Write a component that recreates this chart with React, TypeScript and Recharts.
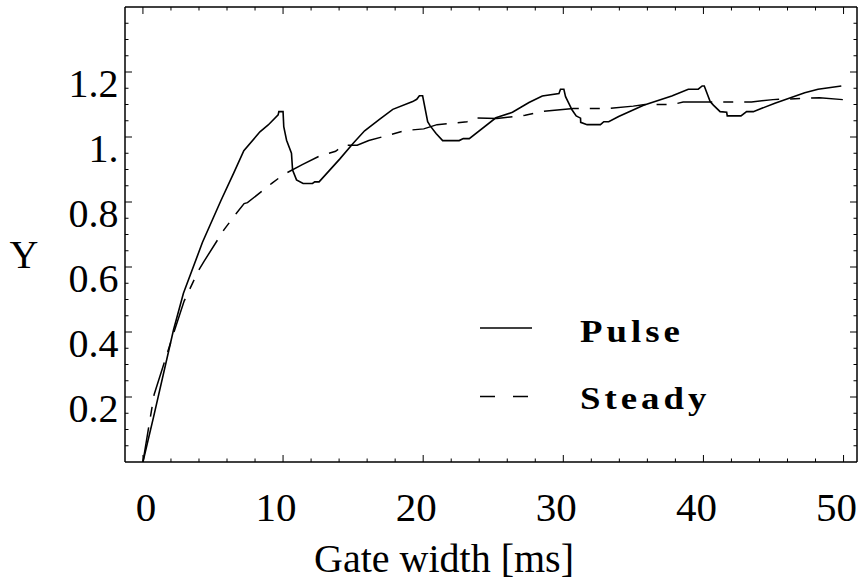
import React from "react";
import { LineChart, Line, XAxis, YAxis } from "recharts";

// values
const pulseX = [0, 0.76, 2.18, 2.89, 4.25, 5.56, 6.5, 7.2, 8.35, 8.94, 9.65, 9.7, 10.0, 10.05, 10.25, 10.6, 10.68, 10.96, 11.43, 12.1, 12.26, 12.57, 14.04, 14.99, 15.82, 16.88, 17.83, 19.25, 19.54, 19.73, 19.96, 20.32, 20.49, 20.92, 21.39, 22.57, 22.86, 23.29, 25.19, 26.37, 27.55, 28.5, 29.69, 29.8, 30.04, 30.16, 30.63, 30.92, 31.23, 31.24, 31.7, 32.65, 32.89, 33.24, 33.95, 35.73, 37.74, 38.92, 39.63, 39.91, 40.06, 40.48, 40.71, 41.19, 41.66, 41.7, 42.68, 43.08, 43.56, 45.1, 47.23, 48.18, 49.84];
const pulseY = [0, 0.139, 0.406, 0.519, 0.676, 0.804, 0.891, 0.958, 1.016, 1.037, 1.068, 1.078, 1.078, 1.032, 0.99, 0.95, 0.898, 0.868, 0.857, 0.857, 0.862, 0.862, 0.932, 0.98, 1.019, 1.054, 1.085, 1.109, 1.116, 1.127, 1.127, 1.047, 1.035, 1.011, 0.989, 0.989, 0.995, 0.995, 1.059, 1.076, 1.106, 1.126, 1.134, 1.147, 1.147, 1.124, 1.083, 1.065, 1.058, 1.045, 1.038, 1.038, 1.047, 1.047, 1.063, 1.098, 1.126, 1.147, 1.147, 1.157, 1.157, 1.109, 1.098, 1.078, 1.076, 1.065, 1.065, 1.078, 1.078, 1.104, 1.136, 1.147, 1.157];

const steadyX = [0, 0.8, 2.35, 2.94, 3.94, 4.37, 5.79, 6.7, 7.22, 7.46, 9.24, 10.06, 11.37, 12.68, 13.75, 14.34, 15.29, 16.12, 18.73, 20.04, 20.99, 23.13, 23.6, 25.26, 27.28, 28.58, 30.72, 33.33, 34.99, 35.83, 37.84, 38.55, 43.43, 44.96, 48.29, 49.95];
const steadyY = [0, 0.208, 0.418, 0.495, 0.587, 0.618, 0.715, 0.767, 0.795, 0.798, 0.859, 0.885, 0.915, 0.943, 0.956, 0.975, 0.975, 0.989, 1.02, 1.025, 1.038, 1.047, 1.059, 1.057, 1.067, 1.079, 1.088, 1.088, 1.095, 1.1, 1.1, 1.108, 1.108, 1.115, 1.121, 1.115];

const xTicks = [0, 2, 4, 6, 8, 10, 12, 14, 16, 18, 20, 22, 24, 26, 28, 30, 32, 34, 36, 38, 40, 42, 44, 46, 48, 50];
const xMajor = [0, 10, 20, 30, 40, 50];
const yTicks = [0.05, 0.1, 0.15, 0.2, 0.25, 0.3, 0.35, 0.4, 0.45, 0.5, 0.55, 0.6, 0.65, 0.7, 0.75, 0.8, 0.85, 0.9, 0.95, 1, 1.05, 1.1, 1.15, 1.2, 1.25, 1.3, 1.35];
const yMajor = [0.2, 0.4, 0.6, 0.8, 1, 1.2];
const yMajorLabels = ["0.2", "0.4", "0.6", "0.8", "1.", "1.2"];

const seriesNames = ["Pulse", "Steady"];
const seriesDash = ["", "15 18"];

const pulse = pulseX.map((x, i) => ({ x, y: pulseY[i] }));
const steady = steadyX.map((x, i) => ({ x, y: steadyY[i] }));

const FONT = "'Liberation Serif', 'Times New Roman', serif";
const majorIndex = (list: number[], v: number) => list.findIndex((m) => Math.abs(m - v) < 1e-6);

function BottomTick({ x, y, payload }: any) {
  const major = majorIndex(xMajor, payload.value) >= 0;
  return (
    <g>
      <line x1={x} x2={x} y1={y} y2={y - (major ? 7 : 3.5)} stroke="#000" strokeWidth={1} />
      {major && (
        <text x={x + (payload.value === 0 ? 3 : -7)} y={y + 58.5} textAnchor="middle" fontSize={41} fontFamily={FONT} fill="#000">
          {payload.value}
        </text>
      )}
    </g>
  );
}

function TopTick({ x, y, payload }: any) {
  const major = majorIndex(xMajor, payload.value) >= 0;
  return <line x1={x} x2={x} y1={y} y2={y + (major ? 7 : 3.5)} stroke="#000" strokeWidth={1} />;
}

function LeftTick({ x, y, payload }: any) {
  const i = majorIndex(yMajor, payload.value);
  return (
    <g>
      <line x1={x} x2={x + (i >= 0 ? 7 : 3.5)} y1={y} y2={y} stroke="#000" strokeWidth={1} />
      {i >= 0 && (
        <text x={x - 6.5} y={y + 25} textAnchor="end" fontSize={40} fontFamily={FONT} fill="#000">
          {yMajorLabels[i]}
        </text>
      )}
    </g>
  );
}

function RightTick({ x, y, payload }: any) {
  const major = majorIndex(yMajor, payload.value) >= 0;
  return <line x1={x} x2={x - (major ? 7 : 3.5)} y1={y} y2={y} stroke="#000" strokeWidth={1} />;
}

const xTitle = () => (
  <text x={444} y={572} textAnchor="middle" fontSize={40} fontFamily={FONT} fill="#000">
    Gate width [ms]
  </text>
);

const yTitle = () => (
  <text x={24} y={268} textAnchor="middle" fontSize={40} fontFamily={FONT} fill="#000">
    Y
  </text>
);

export default function App() {
  const axisLine = { stroke: "#000", strokeWidth: 1.5 };
  return (
    <div style={{ position: "absolute", left: 0, top: 0, width: 865, height: 585, background: "#fff" }}>
      <LineChart width={865} height={585} margin={{ top: 6, right: 7, bottom: 122, left: 124 }}>
        <XAxis xAxisId="b" dataKey="x" type="number" domain={[-1.28, 50.96]} allowDataOverflow ticks={xTicks} interval={0}
          height={1} tickSize={0} tickMargin={0} tickLine={false} axisLine={axisLine} tick={<BottomTick />} label={xTitle} />
        <XAxis xAxisId="t" orientation="top" dataKey="x" type="number" domain={[-1.28, 50.96]} allowDataOverflow ticks={xTicks} interval={0}
          height={1} tickSize={0} tickMargin={0} tickLine={false} axisLine={axisLine} tick={<TopTick />} />
        <YAxis yAxisId="l" type="number" domain={[0, 1.4]} allowDataOverflow ticks={yTicks} interval={0}
          width={1} tickSize={0} tickMargin={0} tickLine={false} axisLine={axisLine} tick={<LeftTick />} label={yTitle} />
        <YAxis yAxisId="r" orientation="right" type="number" domain={[0, 1.4]} allowDataOverflow ticks={yTicks} interval={0}
          width={1} tickSize={0} tickMargin={0} tickLine={false} axisLine={axisLine} tick={<RightTick />} />
        <Line xAxisId="b" yAxisId="l" data={pulse} dataKey="y" name={seriesNames[0]} type="linear" stroke="#000"
          strokeWidth={1.6} dot={false} isAnimationActive={false} />
        <Line xAxisId="b" yAxisId="l" data={steady} dataKey="y" name={seriesNames[1]} type="linear" stroke="#000"
          strokeWidth={1.5} strokeDasharray="35 11 10 11" dot={false} isAnimationActive={false} />
      </LineChart>
      <svg width={865} height={585} style={{ position: "absolute", left: 0, top: 0, pointerEvents: "none" }}>
        {seriesNames.map((name, i) => (
          <g key={name}>
            <line x1={480} x2={532} y1={328 + i * 68.5} y2={328 + i * 68.5} stroke="#000" strokeWidth={1.5}
              strokeDasharray={seriesDash[i] || undefined} />
            <text transform={`translate(580, ${342 + i * 67}) scale(1.15, 1)`} fontSize={32} fontWeight="bold"
              letterSpacing={3.5} fontFamily={FONT} fill="#000">
              {name}
            </text>
          </g>
        ))}
      </svg>
    </div>
  );
}
